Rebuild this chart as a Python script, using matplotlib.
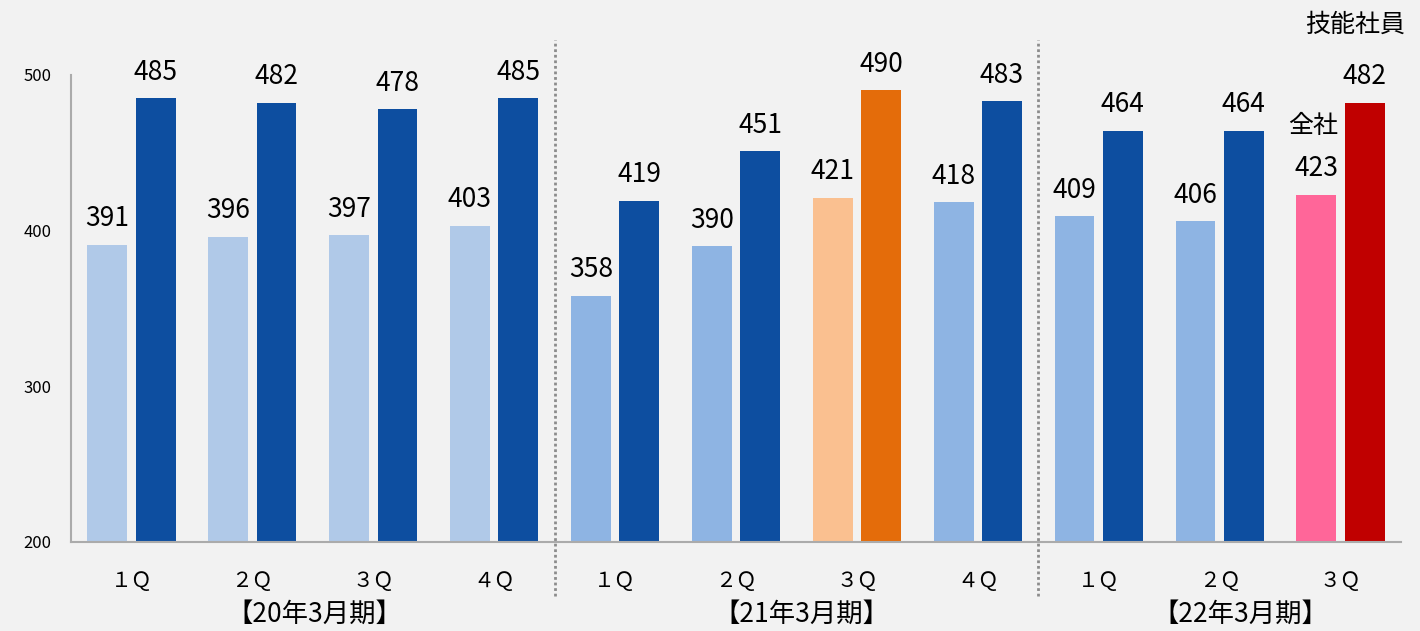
import numpy as np
import matplotlib
matplotlib.use("Agg")
import matplotlib.pyplot as plt
from matplotlib.transforms import blended_transform_factory

plt.rcParams['font.family'] = ['Noto Sans CJK JP', 'DejaVu Sans']

# data
quarters = ['１Ｑ', '２Ｑ', '３Ｑ', '４Ｑ', '１Ｑ', '２Ｑ', '３Ｑ', '４Ｑ', '１Ｑ', '２Ｑ', '３Ｑ']
periods = ['【20年3月期】', '【21年3月期】', '【22年3月期】']
company = [391, 396, 397, 403, 358, 390, 421, 418, 409, 406, 423]
skilled = [485, 482, 478, 485, 419, 451, 490, 483, 464, 464, 482]

light_colors = ['#B0C9E8'] * 4 + ['#8EB4E3', '#8EB4E3', '#FAC090', '#8EB4E3'] + ['#8EB4E3', '#8EB4E3', '#FF6699']
dark_colors = ['#0D4EA0'] * 4 + ['#0D4EA0', '#0D4EA0', '#E46C0A', '#0D4EA0'] + ['#0D4EA0', '#0D4EA0', '#C00000']

fig = plt.figure(figsize=(14.2, 6.31), dpi=100, facecolor='#F2F2F2')
ax = fig.add_axes([71 / 1420, 89 / 631, 1330 / 1420, 542 / 631])
ax.set_facecolor('#F2F2F2')

x = np.arange(len(quarters))
w = 0.33
ax.bar(x - 0.2, company, w, bottom=0, color=light_colors)
ax.bar(x + 0.2, skilled, w, bottom=0, color=dark_colors)

for i in range(len(x)):
    ax.annotate(str(company[i]), (x[i] - 0.2, company[i]), xytext=(0, 9),
                textcoords='offset points', ha='center', va='bottom', fontsize=19)
    ax.annotate(str(skilled[i]), (x[i] + 0.2, skilled[i]), xytext=(0, 9),
                textcoords='offset points', ha='center', va='bottom', fontsize=19)

ax.set_xlim(-0.5, 10.5)
ax.set_ylim(200, 548)
ax.set_yticks([200, 300, 400, 500])
ax.tick_params(axis='y', length=0, pad=14, labelsize=12)
ax.tick_params(axis='x', length=0, pad=20, labelsize=15)
ax.set_xticks(x)
ax.set_xticklabels(quarters)

for s in ['top', 'right']:
    ax.spines[s].set_visible(False)
ax.spines['left'].set_bounds(200, 500)
ax.spines['left'].set_color('#ABABAB')
ax.spines['bottom'].set_color('#ABABAB')
ax.spines['left'].set_linewidth(1.5)
ax.spines['bottom'].set_linewidth(1.5)

trans = blended_transform_factory(ax.transData, ax.transAxes)
for sep in [3.5, 7.5]:
    ax.plot([sep, sep], [-0.10, 0.926], transform=trans, color='#8C8C8C',
            linestyle=(0, (1, 1)), linewidth=2, clip_on=False)

centers = [1.51, 5.54, 9.17]
for c, p in zip(centers, periods):
    ax.text(c, -0.133, p, transform=trans, ha='center', va='center', fontsize=19)

ax.text(10.12, 0.954, '技能社員', transform=trans, ha='center', va='center', fontsize=18)
ax.annotate('全社', (9.77, company[10]), xytext=(0, 40), textcoords='offset points',
            ha='center', va='bottom', fontsize=18)

fig.savefig('out.png', dpi=100, facecolor=fig.get_facecolor())
